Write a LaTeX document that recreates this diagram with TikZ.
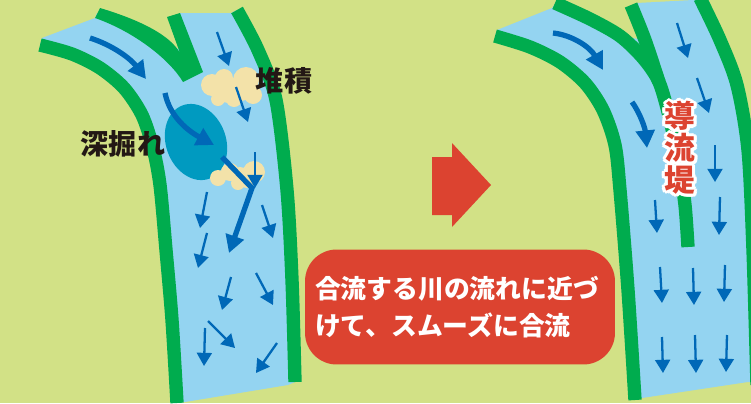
\documentclass[tikz,border=0pt]{standalone}
\usepackage{fontspec}
\usepackage{tikz}
\usetikzlibrary{arrows.meta}
\newfontfamily\jpfont{Noto Sans CJK JP}

\definecolor{fieldgreen}{HTML}{D2E186}
\definecolor{riverblue}{HTML}{94D4F1}
\definecolor{bankgreen}{HTML}{00AC4E}
\definecolor{flowblue}{HTML}{0068B7}
\definecolor{scourblue}{HTML}{009AC0}
\definecolor{sand}{HTML}{F3E2A9}
\definecolor{alertred}{HTML}{DC4330}
\definecolor{ink}{HTML}{231815}

\tikzset{
    field/.style={fill=fieldgreen},
    water/.style={fill=riverblue},
    bank/.style={draw=bankgreen, line width=7.6pt},
    bankfill/.style={fill=bankgreen},
    scour/.style={fill=scourblue},
    deposit/.style={fill=sand},
    flow/.style={draw=flowblue, line width=1.3pt, -{Triangle[length=7.5pt, width=8.5pt]}},
    bigflow/.style={draw=flowblue, line width=3pt, -{Triangle[length=10pt, width=10.5pt]}},
    tag/.style={text=ink, inner sep=0pt, font=\jpfont\bfseries\fontsize{16}{18}\selectfont},
    notebox/.style={rectangle, rounded corners=18pt, fill=alertred, text=white, minimum width=6.2cm, minimum height=2.3cm, text width=5.8cm, align=left, inner sep=0pt, font=\jpfont\bfseries\fontsize{14.7}{21}\selectfont},
    dikelabel/.style={text=alertred, align=center, inner sep=0pt, font=\jpfont\bfseries\fontsize{17.5}{18.2}\selectfont}
}

\begin{document}
\begin{tikzpicture}[x=0.02cm, y=-0.02cm]
    \useasboundingbox (0,0) rectangle (751,403);
    \clip (0,0) rectangle (751,403);
    \fill[field] (0,0) rectangle (751,403);

    % before: two rivers meeting at a sharp angle
    \fill[water] plot[smooth] coordinates {(40,45) (72,54) (100,68) (124,88) (142,115) (153,148) (160,185) (166,250) (172,320) (177,403)}
        -- (185,402) -- (288,385) -- (295,382)
        -- plot[smooth] coordinates {(295,382) (292,280) (287,190) (276,100) (258,50) (237,10)}
        -- (231,13) -- (180,13) -- (178,14.5) -- (180,50) -- (150,32) -- (97,13) -- (95,18) -- (42,38) -- cycle;
    \fill[scour, rotate around={20:(196,142)}] (196,142) ellipse [x radius=30, y radius=39];
    \fill[deposit] (212,85) circle [radius=11] (224,78) circle [radius=9] (246,80) circle [radius=13]
        (253,95) circle [radius=9] (218,99) circle [radius=7] (234,99) circle [radius=8] (232,88) circle [radius=10]
        (228,93) circle [radius=10] (241,91) circle [radius=10];
    \fill[deposit] (218,178) circle [radius=8] (230,172) circle [radius=9] (254,172) circle [radius=11]
        (238,183) circle [radius=7] (247,181) circle [radius=7] (240,175) circle [radius=8];
    \draw[bank] plot[smooth] coordinates {(40,45) (72,54) (100,68) (124,88) (142,115) (153,148) (160,185) (166,250) (172,320) (177,403)};
    \draw[bank] plot[smooth] coordinates {(237,10) (258,50) (276,100) (287,190) (292,280) (295,382)};
    \fill[bankfill] (95,18) -- (100,8) .. controls (140,20) and (170,35) .. (180,53) -- (167,17) -- (180,13)
        -- (203,72) -- (183,82) .. controls (170,60) and (135,32) .. (95,18) -- cycle;

    \draw[bigflow] (90,38) .. controls (112,45) and (130,58) .. (146,79);
    \draw[bigflow] (165,93) .. controls (170,118) and (190,132) .. (214,145);
    \draw[bigflow] (222,157) -- (252,188) -- (229,253);
    \foreach \xa/\ya/\xb/\yb in {217/32/229/66, 236/87/248/122, 255/152/255/188, 207/192/200/228,
        207/233/198/268, 262/205/273/238, 231/277/222/310, 256/273/273/305, 208/321/235/348,
        205/328/204/366, 277/343/256/373}
        \draw[flow] (\xa,\ya) -- (\xb,\yb);

    \node (sediment) [tag] at (284,81) {堆積};
    \node (scouring) [tag] at (123,144) {深掘れ};

    \fill[alertred] (432,157) -- (452,157) -- (452,143) -- (491,185) -- (452,227) -- (452,215) -- (432,215) -- cycle;
    \node (note) [notebox] at (460,307) {合流する川の流れに近づ\\けて、スムーズに合流};

    % after: a training dike guides the tributary along the main flow
    \fill[water] plot[smooth] coordinates {(495,36) (530,47) (560,62) (585,83) (603,110) (615,145) (620,190) (628,290) (635,400)}
        -- (642,398) -- (748,382) -- (757,382)
        -- plot[smooth] coordinates {(757,382) (753,250) (748,150) (737,85) (720,40) (700,-2)}
        -- (693,0) -- (637,3) -- (645,40) -- (620,36) -- (590,19) -- (555,4) -- (552,8) -- (497,30) -- cycle;
    \draw[bank] plot[smooth] coordinates {(495,36) (530,47) (560,62) (585,83) (603,110) (615,145) (620,190) (628,290) (635,400)};
    \draw[bank] plot[smooth] coordinates {(700,-2) (720,40) (737,85) (748,150) (753,250) (757,385)};
    \draw[bank] plot[smooth] coordinates {(631,5) (645,40) (659,82)};
    \draw[bank] plot[smooth] coordinates {(555,3) (590,19) (620,36) (643,58) (659,82) (670,120) (679,165) (685,205) (688,247)};

    \draw[bigflow] (553,33) .. controls (572,35) and (590,47) .. (603,70);
    \draw[bigflow] (632,102) .. controls (640,113) and (645,128) .. (647,148);
    \foreach \xa/\ya/\xb/\yb in {677/23/688/58, 697/78/709/113, 715/145/715/182, 655/200/657/233,
        720/197/719/235, 660/267/662/303, 693/268/694/305, 725/265/724/302, 662/337/663/373,
        695/335/696/373, 727/335/726/372}
        \draw[flow] (\xa,\ya) -- (\xb,\yb);

    \foreach \a in {0,30,...,330}
        \node (halo\a) [dikelabel, text=white, shift={(\a:3.2)}] at (680,148) {導\\流\\堤};
    \node (dike) [dikelabel] at (680,148) {導\\流\\堤};
\end{tikzpicture}
\end{document}
